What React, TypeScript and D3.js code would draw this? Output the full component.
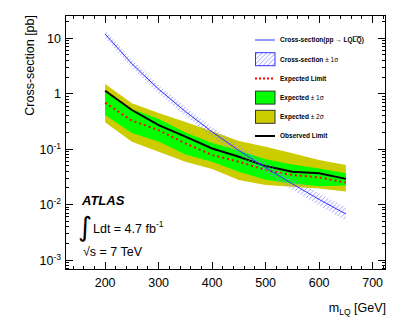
import React, { useEffect, useRef } from "react";
import * as d3 from "d3";

// LQ mass points [GeV]
const masses = [200, 250, 300, 350, 400, 450, 500, 550, 600, 650];
// theory cross-section and its +-1 sigma band [pb]
const theory = [11.9, 3.47, 1.21, 0.477, 0.205, 0.0949, 0.0463, 0.0236, 0.0124, 0.00676];
const theoryHi = [14.0, 4.1, 1.44, 0.575, 0.25, 0.117, 0.058, 0.03, 0.016, 0.0089];
const theoryLo = [10.1, 2.93, 1.01, 0.395, 0.168, 0.077, 0.037, 0.0186, 0.0096, 0.0051];
// limits [pb]
const observed = [1.13, 0.508, 0.272, 0.168, 0.103, 0.0729, 0.0495, 0.0391, 0.0366, 0.0291];
const expected = [0.689, 0.326, 0.221, 0.127, 0.0783, 0.0593, 0.042, 0.0341, 0.031, 0.0249];
const exp1Hi = [1.16, 0.53, 0.35, 0.2, 0.129, 0.095, 0.066, 0.053, 0.045, 0.0366];
const exp1Lo = [0.413, 0.195, 0.137, 0.08, 0.0593, 0.039, 0.028, 0.024, 0.0215, 0.022];
const exp2Hi = [1.5, 0.67, 0.45, 0.31, 0.21, 0.14, 0.11, 0.084, 0.064, 0.052];
const exp2Lo = [0.305, 0.136, 0.0898, 0.0593, 0.0438, 0.0277, 0.0225, 0.0209, 0.0196, 0.0173];

const xTicks = [200, 300, 400, 500, 600, 700];
const yExponents = [-3, -2, -1, 0, 1];

const legendItems = ["theory", "theoryBand", "expected", "exp1", "exp2", "observed"];

const FONT = "'Liberation Sans', Arial, Helvetica, sans-serif";

export default function App() {
  const ref = useRef<SVGSVGElement>(null);

  useEffect(() => {
    const svg = d3.select(ref.current);
    svg.selectAll("*").remove();

    const left = 65, right = 386, top = 15, bottom = 270;
    const x = d3.scaleLinear().domain([125, 725]).range([left, right]);
    const y = d3.scaleLog().domain([Math.pow(10, -3.18), Math.pow(10, 1.42)]).range([bottom, top]);

    const defs = svg.append("defs");
    const pat = defs.append("pattern")
      .attr("id", "hatch")
      .attr("patternUnits", "userSpaceOnUse")
      .attr("width", 4.5).attr("height", 4.5);
    pat.append("path")
      .attr("d", "M-1,1 l2,-2 M0,4.5 l4.5,-4.5 M3.5,5.5 l2,-2")
      .attr("stroke", "#8c8cff")
      .attr("stroke-width", 0.8);
    defs.append("clipPath").attr("id", "frame")
      .append("rect").attr("x", left).attr("y", top).attr("width", right - left).attr("height", bottom - top);

    const g = svg.append("g").attr("clip-path", "url(#frame)");

    const band = (hi: number[], lo: number[]) =>
      d3.area<number>().x((_, i) => x(masses[i])).y0((_, i) => y(lo[i])).y1((_, i) => y(hi[i]))(masses);
    const line = (vals: number[]) =>
      d3.line<number>().x((_, i) => x(masses[i])).y((_, i) => y(vals[i]))(masses);

    g.append("path").attr("d", band(exp2Hi, exp2Lo)).attr("fill", "#cccc00");
    g.append("path").attr("d", band(exp1Hi, exp1Lo)).attr("fill", "#00ff00");
    g.append("path").attr("d", line(expected)).attr("fill", "none")
      .attr("stroke", "#ff0000").attr("stroke-width", 2).attr("stroke-dasharray", "2,3");
    g.append("path").attr("d", line(observed)).attr("fill", "none")
      .attr("stroke", "#000").attr("stroke-width", 2);
    g.append("path").attr("d", band(theoryHi, theoryLo)).attr("fill", "url(#hatch)");
    g.append("path").attr("d", line(theory)).attr("fill", "none")
      .attr("stroke", "#3333ff").attr("stroke-width", 1);

    // frame and ticks
    const ax = svg.append("g").attr("stroke", "#000").attr("stroke-width", 1).attr("shape-rendering", "crispEdges");
    ax.append("rect").attr("x", left + 0.5).attr("y", top + 0.5)
      .attr("width", right - left - 1).attr("height", bottom - top - 1).attr("fill", "none");

    const xMinor = d3.range(140, 725, 20).filter(v => v % 100 !== 0);
    xTicks.forEach(v => {
      ax.append("line").attr("x1", x(v)).attr("x2", x(v)).attr("y1", bottom).attr("y2", bottom - 8);
      ax.append("line").attr("x1", x(v)).attr("x2", x(v)).attr("y1", top).attr("y2", top + 8);
    });
    xMinor.forEach(v => {
      ax.append("line").attr("x1", x(v)).attr("x2", x(v)).attr("y1", bottom).attr("y2", bottom - 4);
      ax.append("line").attr("x1", x(v)).attr("x2", x(v)).attr("y1", top).attr("y2", top + 4);
    });
    const yMinor: number[] = [];
    for (let e = -4; e <= 1; e++) for (let m = 2; m <= 9; m++) yMinor.push(m * Math.pow(10, e));
    const [y0, y1] = y.domain();
    yMinor.filter(v => v > y0 && v < y1).forEach(v => {
      ax.append("line").attr("y1", y(v)).attr("y2", y(v)).attr("x1", left).attr("x2", left + 4);
      ax.append("line").attr("y1", y(v)).attr("y2", y(v)).attr("x1", right).attr("x2", right - 4);
    });
    yExponents.forEach(e => {
      const v = Math.pow(10, e);
      ax.append("line").attr("y1", y(v)).attr("y2", y(v)).attr("x1", left).attr("x2", left + 8);
      ax.append("line").attr("y1", y(v)).attr("y2", y(v)).attr("x1", right).attr("x2", right - 8);
    });

    // tick labels
    const lab = svg.append("g").attr("font-family", FONT).attr("fill", "#000");
    xTicks.forEach(v => {
      lab.append("text").attr("x", x(v)).attr("y", 287).attr("text-anchor", "middle")
        .attr("font-size", 12.5).text(v);
    });
    yExponents.forEach(e => {
      const t = lab.append("text").attr("x", 61).attr("y", y(Math.pow(10, e)) + 4.5)
        .attr("text-anchor", "end").attr("font-size", 12.5);
      if (e === 0) t.text("1");
      else if (e === 1) t.text("10");
      else {
        t.append("tspan").text("10");
        t.append("tspan").attr("dy", -5).attr("font-size", 8.5).text(String(e));
      }
    });

    // axis titles
    lab.append("text").attr("transform", "translate(34,15) rotate(-90)")
      .attr("text-anchor", "end").attr("font-size", 12.5).text("Cross-section [pb]");
    const xt = lab.append("text").attr("x", 386).attr("y", 311.5).attr("text-anchor", "end").attr("font-size", 12.5);
    xt.append("tspan").text("m");
    xt.append("tspan").attr("dy", 3).attr("font-size", 8.5).text("LQ");
    xt.append("tspan").attr("dy", -3).text(" [GeV]");

    // ATLAS label
    lab.append("text").attr("x", 82).attr("y", 205).attr("font-size", 13)
      .attr("font-weight", "bold").attr("font-style", "italic").text("ATLAS");
    lab.append("text").attr("x", 78).attr("y", 236).attr("font-size", 27)
      .attr("font-family", "'DejaVu Sans', sans-serif").text("∫");
    const lumi = lab.append("text").attr("x", 93).attr("y", 232.5).attr("font-size", 12.5);
    lumi.append("tspan").text("Ldt = 4.7 fb");
    lumi.append("tspan").attr("dy", -6).attr("font-size", 8.5).text("-1");
    lab.append("text").attr("x", 83).attr("y", 256).attr("font-size", 12.5).text("√s = 7 TeV");

    // legend
    const lg = svg.append("g").attr("font-family", FONT).attr("font-size", 6.5);
    const rowY = (i: number) => 40 + i * 19.2;
    legendItems.forEach((k, i) => {
      const cy = rowY(i);
      if (k === "theory") {
        lg.append("line").attr("x1", 255).attr("x2", 275).attr("y1", cy).attr("y2", cy)
          .attr("stroke", "#3333ff").attr("stroke-width", 1);
      } else if (k === "expected") {
        lg.append("line").attr("x1", 255).attr("x2", 275).attr("y1", cy).attr("y2", cy)
          .attr("stroke", "#ff0000").attr("stroke-width", 2).attr("stroke-dasharray", "2,2");
      } else if (k === "observed") {
        lg.append("line").attr("x1", 255).attr("x2", 275).attr("y1", cy).attr("y2", cy)
          .attr("stroke", "#000").attr("stroke-width", 2);
      } else {
        const fill = k === "theoryBand" ? "url(#hatch)" : k === "exp1" ? "#00ff00" : "#cccc00";
        const stroke = k === "theoryBand" ? "#3333ff" : "#333";
        lg.append("rect").attr("x", 255.5).attr("y", cy - 6.5).attr("width", 19.5).attr("height", 13)
          .attr("fill", fill).attr("stroke", stroke).attr("stroke-width", 1);
      }
      const t = lg.append("text").attr("x", 280).attr("y", cy + 2.3).attr("font-weight", "bold");
      if (k === "theory") {
        t.append("tspan").text("Cross-section(pp ");
        t.append("tspan").attr("font-weight", "normal").text("→");
        t.append("tspan").text(" LQ");
        t.append("tspan").style("text-decoration", "overline").text("LQ");
        t.append("tspan").text(")");
      } else if (k === "theoryBand") {
        t.append("tspan").text("Cross-section ");
        t.append("tspan").attr("font-weight", "normal").text("± 1σ");
      } else if (k === "expected") {
        t.text("Expected Limit");
      } else if (k === "exp1") {
        t.append("tspan").text("Expected ");
        t.append("tspan").attr("font-weight", "normal").text("± 1σ");
      } else if (k === "exp2") {
        t.append("tspan").text("Expected ");
        t.append("tspan").attr("font-weight", "normal").text("± 2σ");
      } else {
        t.text("Observed Limit");
      }
    });
  }, []);

  return (
    <svg ref={ref} width={407} height={322}
      style={{ position: "absolute", left: 0, top: 0, background: "#fff" }} />
  );
}
